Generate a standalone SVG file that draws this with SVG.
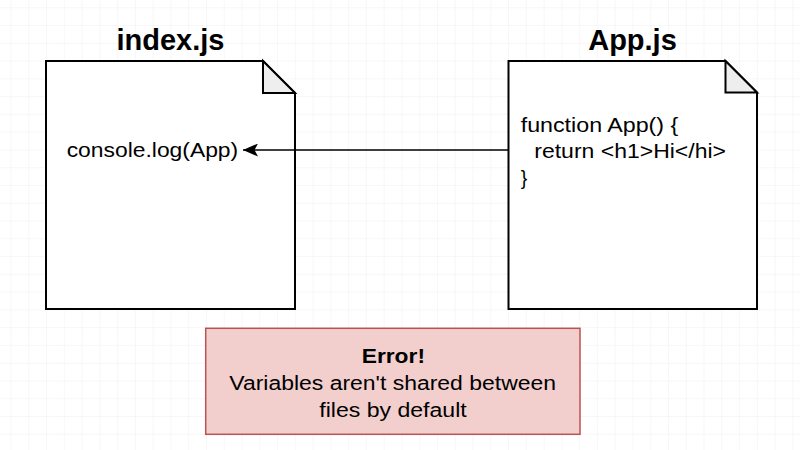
<svg xmlns="http://www.w3.org/2000/svg" width="800" height="450" viewBox="0 0 800 450">
  <defs>
    <pattern id="grid" patternUnits="userSpaceOnUse" x="10.5" y="7.3" width="17.77" height="17.77">
      <path d="M0,0 H17.77 M0,0 V17.77" fill="none" stroke="#f0f0f0" stroke-width="1"/>
    </pattern>
    <marker id="arrow" markerUnits="userSpaceOnUse" viewBox="0 0 15 13" refX="15" refY="6.5" markerWidth="15" markerHeight="13" orient="auto">
      <path d="M15,6.5 L0,0 L3.5,6.5 L0,13 Z" fill="#000"/>
    </marker>
    <style>
      .doc { fill: #ffffff; stroke: #000000; stroke-width: 2; stroke-linejoin: miter; }
      .fold { fill: #eeeeee; stroke: #000000; stroke-width: 2; }
      .title { font-family: "Liberation Sans", Arial, Helvetica, sans-serif; font-weight: bold; font-size: 29px; fill: #000; text-anchor: middle; }
      .code { font-family: "Liberation Sans", Arial, Helvetica, sans-serif; font-size: 19.5px; fill: #000; }
      .err { fill: #f2cfcd; stroke: #b85450; stroke-width: 1.5; }
      .errt { font-family: "Liberation Sans", Arial, Helvetica, sans-serif; font-size: 19.5px; fill: #000; }
      .bold { font-weight: bold; }
      .edge { fill: none; stroke: #000; stroke-width: 1.5; }
    </style>
  </defs>
  <rect x="0" y="0" width="800" height="450" fill="#ffffff"/>
  <rect x="0" y="0" width="800" height="450" fill="url(#grid)"/>

  <g id="index-js">
    <text class="title" x="170.5" y="50">index.js</text>
    <path class="doc" d="M46,61 H263 L295,93 V309 H46 Z"/>
    <path class="fold" d="M263,61 V93 H295 Z"/>
    <text class="code" x="66.7" y="157.3" textLength="171.5" lengthAdjust="spacingAndGlyphs">console.log(App)</text>
  </g>

  <g id="app-js">
    <text class="title" x="632.5" y="50">App.js</text>
    <path class="doc" d="M508.5,61 H725.5 L757,92.5 V309 H508.5 Z"/>
    <path class="fold" d="M725.5,61 V92.5 H757 Z"/>
    <text class="code" x="520.7" y="131.5" textLength="157.6" lengthAdjust="spacingAndGlyphs">function App() {</text>
    <text class="code" x="534.3" y="158" textLength="191.7" lengthAdjust="spacingAndGlyphs">return &lt;h1&gt;Hi&lt;/hi&gt;</text>
    <text class="code" x="520.7" y="184.5">}</text>
  </g>

  <g id="error">
    <rect class="err" x="205.7" y="328.3" width="374.3" height="106"/>
    <text class="errt bold" x="361.7" y="363.3" textLength="63.3" lengthAdjust="spacingAndGlyphs">Error!</text>
    <text class="errt" x="229.3" y="390" textLength="326.7" lengthAdjust="spacingAndGlyphs">Variables aren't shared between</text>
    <text class="errt" x="319.3" y="416.5" textLength="147.4" lengthAdjust="spacingAndGlyphs">files by default</text>
  </g>

  <g id="connectors">
    <path class="edge" d="M508.5,150 H243" marker-end="url(#arrow)"/>
  </g>
</svg>
